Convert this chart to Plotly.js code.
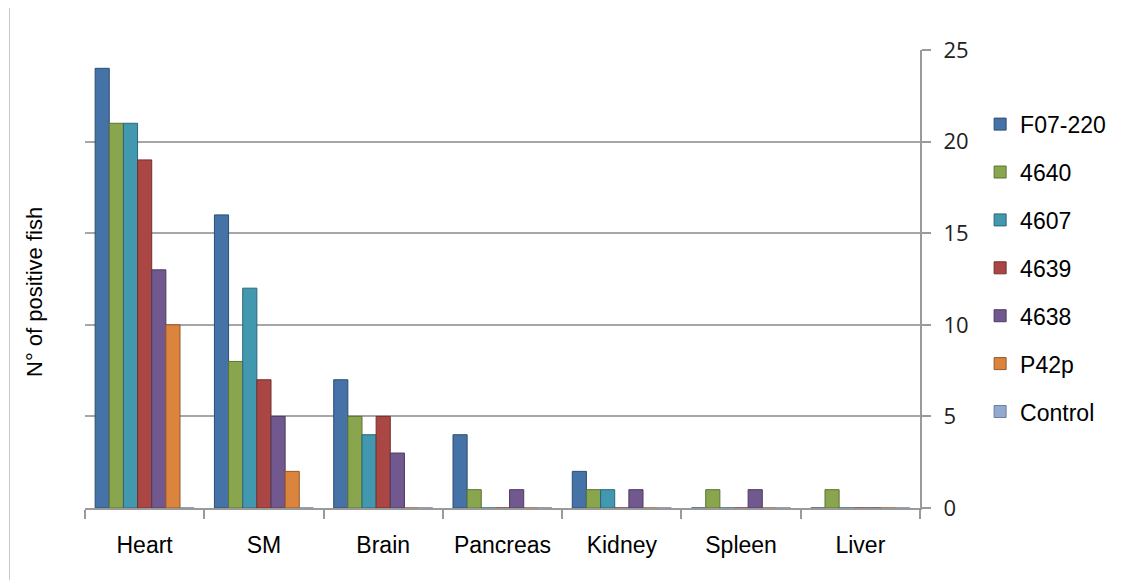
<!DOCTYPE html>
<html>
<head>
<meta charset="utf-8">
<script src="https://cdn.plot.ly/plotly-3.0.1.min.js"></script>
<style>html,body{margin:0;padding:0;background:#fff;}#chart{width:1124px;height:580px;}</style>
</head>
<body>
<div id="chart"></div>
<script>
const categories = ["Heart", "SM", "Brain", "Pancreas", "Kidney", "Spleen", "Liver"];
const seriesNames = ["F07-220", "4640", "4607", "4639", "4638", "P42p", "Control"];
const F07_220 = [24, 16, 7, 4, 2, 0, 0];
const s4640   = [21, 8, 5, 1, 1, 1, 1];
const s4607   = [21, 12, 4, 0, 1, 0, 0];
const s4639   = [19, 7, 5, 0, 0, 0, 0];
const s4638   = [13, 5, 3, 1, 1, 1, 0];
const P42p    = [10, 2, 0, 0, 0, 0, 0];
const Control = [0, 0, 0, 0, 0, 0, 0];
const yTicks = [0, 5, 10, 15, 20, 25];

const seriesValues = [F07_220, s4640, s4607, s4639, s4638, P42p, Control];
const colors = ["#4572A7", "#89A54E", "#4198AF", "#AA4643", "#71588F", "#DB843D", "#93A9CF"];
const edges  = ["#2E4D73", "#5E7335", "#2B6677", "#73302D", "#4C3B61", "#94592A", "#6A7FA0"];

const traces = seriesNames.map((n, i) => ({
  type: "bar",
  name: n,
  x: categories,
  y: seriesValues[i],
  legendgroup: "g" + i,
  marker: {color: colors[i], line: {color: edges[i], width: 1}},
  hoverinfo: "x+y+name"
}));

const M = {l: 85, r: 204, t: 50, b: 72};
const plotW = 1124 - M.l - M.r;
const plotH = 580 - M.t - M.b;
const px = v => (v - M.l) / plotW;
const py = v => (580 - M.b - v) / plotH;

const layout = {
  width: 1124, height: 580,
  margin: M,
  paper_bgcolor: "#ffffff",
  plot_bgcolor: "#ffffff",
  font: {family: "Liberation Sans, Arial, sans-serif", size: 23, color: "#000"},
  barmode: "group",
  bargap: 0.17,
  bargroupgap: 0,
  showlegend: true,
  legend: {
    x: 1.072, y: 0.885, xanchor: "left", yanchor: "top",
    font: {size: 23, family: "Liberation Sans, Arial, sans-serif"},
    traceorder: "grouped",
    tracegroupgap: 15,
    itemwidth: 30,
    bgcolor: "rgba(0,0,0,0)"
  },
  xaxis: {
    type: "category",
    tickson: "boundaries",
    ticks: "outside",
    ticklen: 9,
    tickcolor: "#9a9a9a",
    tickwidth: 2,
    showline: true,
    linecolor: "#9a9a9a",
    linewidth: 2,
    showgrid: false,
    ticklabelstandoff: 15,
    tickfont: {size: 23}
  },
  yaxis: {
    side: "right",
    range: [0, 25],
    tickvals: yTicks,
    ticks: "outside",
    ticklen: 9,
    tickcolor: "#9a9a9a",
    tickwidth: 2,
    showline: true,
    linecolor: "#9a9a9a",
    linewidth: 2,
    showgrid: true,
    gridcolor: "#a6a6a6",
    gridwidth: 2,
    zeroline: false,
    ticklabelstandoff: 8,
    tickfont: {size: 22, family: "Open Sans, Liberation Sans, sans-serif", color: "#222"}
  },
  shapes: [{
    type: "line", xref: "paper", yref: "paper",
    x0: px(9.5), x1: px(9.5), y0: py(8), y1: py(580),
    line: {color: "#c8c8c8", width: 1}
  }],
  annotations: [{
    text: "N° of positive fish",
    xref: "paper", yref: "paper",
    x: px(34), y: py(292),
    xanchor: "center", yanchor: "middle",
    textangle: -90,
    showarrow: false,
    font: {size: 22, family: "Liberation Sans, Arial, sans-serif", color: "#000"}
  }]
};

Plotly.newPlot("chart", traces, layout, {displayModeBar: false, staticPlot: true});
</script>
</body>
</html>
